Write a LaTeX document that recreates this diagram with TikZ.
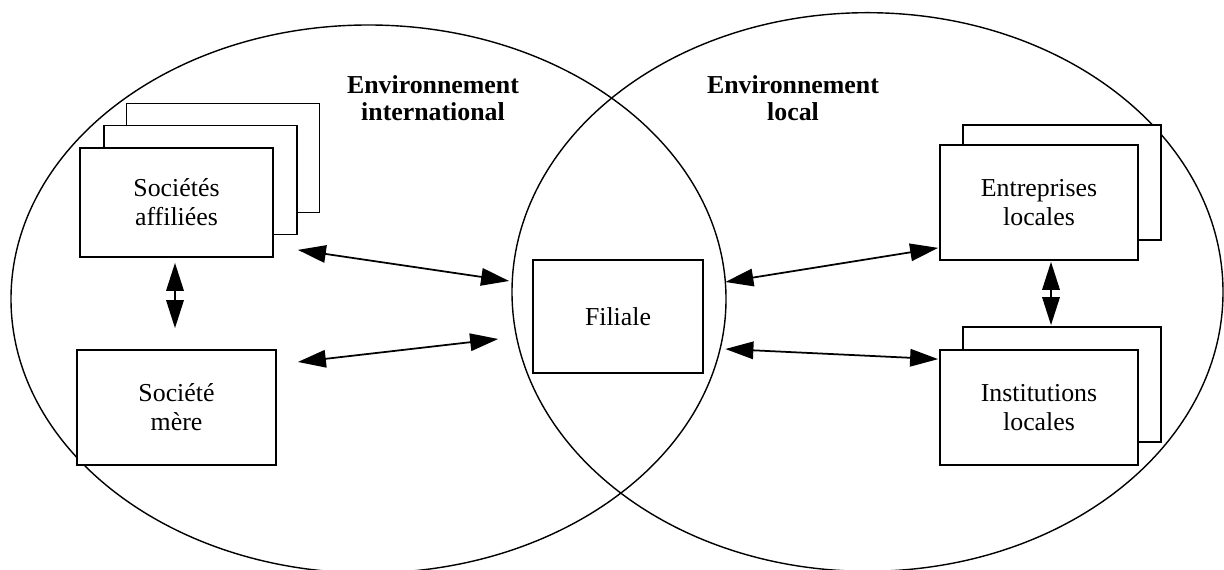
\documentclass[tikz,border=0pt]{standalone}
\usepackage{fontspec}
\setmainfont{Liberation Serif}
\usetikzlibrary{calc}
\usetikzlibrary{arrows.meta}
\definecolor{color_line}{HTML}{000000}
\def\orglinewidth{1pt}
\def\envlinewidth{0.8pt}
\def\orgfont{\fontsize{14.7}{16.5}\selectfont}
\tikzset{
    orgbox/.style={draw=color_line, fill=white, line width=\orglinewidth, inner sep=0pt, align=center, font=\orgfont},
    envlabel/.style={align=center, font=\fontsize{14.7}{15.6}\selectfont\bfseries},
    envline/.style={draw=color_line, line width=\envlinewidth},
    link/.style={{Triangle[length=5.6mm,width=3.5mm]}-{Triangle[length=5.6mm,width=3.5mm]}, line width=\orglinewidth},
}

\begin{document}
\begin{tikzpicture}[x=0.2mm, y=-0.2mm]
        \useasboundingbox (0,0) rectangle (1224,570);
        \clip (0,0) rectangle (1224,570);
        % the two environments
        \draw[envline] (368.5,299) ellipse [x radius=71.5mm, y radius=54.8mm];
        \draw[envline] (867.5,292) ellipse [x radius=71.1mm, y radius=55.86mm];
        \node[envlabel] (envint) at (433,98) {Environnement\\international};
        \node[envlabel] (envloc) at (793,98) {Environnement\\local};
        % international side
        \node[orgbox, minimum width=38.6mm, minimum height=21.8mm] (aff3) at (223,158) {};
        \node[orgbox, minimum width=38.6mm, minimum height=21.8mm] (aff2) at (200.5,180) {};
        \node[orgbox, minimum width=38.6mm, minimum height=21.8mm] (aff) at (176.5,202.5) {Sociétés\\affiliées};
        \node[orgbox, minimum width=39.8mm, minimum height=23mm] (mere) at (176.5,407.5) {Société\\mère};
        % the subsidiary
        \node[orgbox, minimum width=34mm, minimum height=22.6mm] (fil) at (618,316.5) {Filiale};
        % local side
        \node[orgbox, minimum width=39.6mm, minimum height=23mm] (entb) at (1062,182.5) {};
        \node[orgbox, minimum width=39.6mm, minimum height=23mm] (ent) at (1039,202.5) {Entreprises\\locales};
        \node[orgbox, minimum width=39.6mm, minimum height=23mm] (instb) at (1062,384.5) {};
        \node[orgbox, minimum width=39.6mm, minimum height=23mm] (inst) at (1039,407.5) {Institutions\\locales};
        % relations
        \draw[link] ($(aff.south east)+(24,-8)$) -- ($(fil.west)+(-23,-35.5)$);
        \draw[link] ($(mere.east)+(21,-45.5)$) -- ($(fil.west)+(-34,22.5)$);
        \draw[link] ($(aff.south)+(-1.5,5)$) -- ($(mere.north)+(-1.5,-21)$);
        \draw[link] ($(fil.east)+(21.5,-34.5)$) -- ($(ent.south west)+(-1,-13)$);
        \draw[link] ($(fil.east)+(21.5,32.5)$) -- ($(inst.north west)+(-1,10)$);
        \draw[link] ($(ent.south)+(12,1)$) -- ($(instb.north)+(-11,-1)$);
    \end{tikzpicture}
\end{document}
